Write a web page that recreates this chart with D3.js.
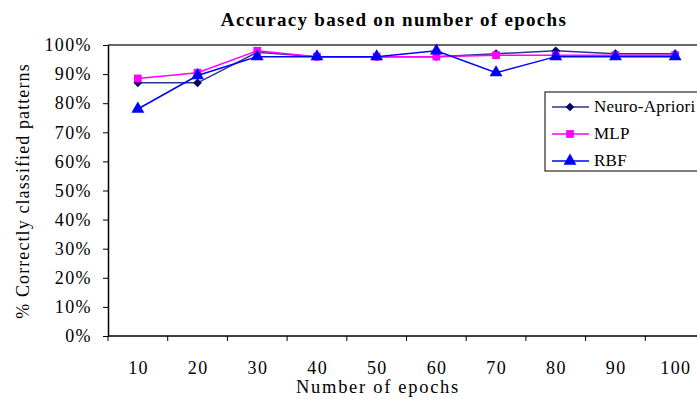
<!DOCTYPE html>
<html>
<head>
<meta charset="utf-8">
<script src="https://cdn.jsdelivr.net/npm/d3@7"></script>
<style>
  html, body { margin: 0; padding: 0; background: #fff; }
  svg { display: block; }
  text { font-family: "Liberation Serif", "Times New Roman", serif; fill: #000; }
</style>
</head>
<body>
<svg id="chart" width="697" height="399"></svg>
<script>
// Accuracy (%) per number of training epochs
const epochs = ["10", "20", "30", "40", "50", "60", "70", "80", "90", "100"];
const neuroApriori = [87, 87, 97.5, 96, 96, 96, 97, 98, 97, 97];
const mlp = [88.5, 90.5, 98, 96, 96, 96, 96.5, 96.5, 96.5, 96.5];
const rbf = [78, 89.5, 96, 96, 96, 98, 90.5, 96, 96, 96];
const yTicks = [0, 10, 20, 30, 40, 50, 60, 70, 80, 90, 100];

const series = [
  { name: "Neuro-Apriori", values: neuroApriori, color: "#2a3590", marker: "diamond", fill: "#000066" },
  { name: "MLP", values: mlp, color: "#ff00ff", marker: "square", fill: "#ff00ff" },
  { name: "RBF", values: rbf, color: "#0000ff", marker: "triangle", fill: "#0000ff" }
];

const svg = d3.select("#chart");
const plotLeft = 108, plotTop = 45, plotBottom = 336;
const bandW = 59.7;
const plotRight = plotLeft + bandW * epochs.length;

const x = d3.scaleBand().domain(epochs).range([plotLeft, plotRight]);
const y = d3.scaleLinear().domain([0, 100]).range([plotBottom, plotTop]);

// Title
svg.append("text")
  .attr("x", 394).attr("y", 26)
  .attr("text-anchor", "middle")
  .style("font-size", "19px").style("font-weight", "bold")
  .style("letter-spacing", "1.3px")
  .text("Accuracy based on number of epochs");

// Top border of plot area
svg.append("line")
  .attr("x1", plotLeft).attr("x2", plotRight)
  .attr("y1", plotTop).attr("y2", plotTop)
  .attr("stroke", "#666").attr("stroke-width", 2);

// Y axis
const yAxis = svg.append("g")
  .attr("transform", `translate(${plotLeft},0)`)
  .call(d3.axisLeft(y).tickValues(yTicks).tickFormat(d => d + "%").tickSize(5).tickSizeOuter(0));
yAxis.select(".domain").attr("stroke", "#000").attr("stroke-width", 1.5);
yAxis.selectAll(".tick line").attr("stroke", "#000");
yAxis.selectAll(".tick text")
  .attr("x", -16)
  .style("font-size", "18px")
  .style("letter-spacing", "1.4px")
  .style("font-family", "'Liberation Serif', serif");

// X axis with ticks between categories
const xAxis = svg.append("g")
  .attr("transform", `translate(0,${plotBottom})`);
xAxis.append("line")
  .attr("x1", plotLeft).attr("x2", plotRight)
  .attr("stroke", "#000").attr("stroke-width", 1.5);
xAxis.selectAll("line.tk")
  .data(d3.range(epochs.length + 1))
  .join("line")
  .attr("class", "tk")
  .attr("x1", i => plotLeft + i * x.step()).attr("x2", i => plotLeft + i * x.step())
  .attr("y1", 0).attr("y2", 5)
  .attr("stroke", "#000");
xAxis.selectAll("text")
  .data(epochs)
  .join("text")
  .attr("x", d => x(d) + x.bandwidth() / 2 + 0.7)
  .attr("y", 37.5)
  .attr("text-anchor", "middle")
  .style("font-size", "18px")
  .style("letter-spacing", "1.4px")
  .text(d => d);

// Axis titles
svg.append("text")
  .attr("x", 378).attr("y", 393)
  .attr("text-anchor", "middle")
  .style("font-size", "18.5px")
  .style("letter-spacing", "1.7px")
  .text("Number of epochs");
svg.append("text")
  .attr("transform", "translate(29,191) rotate(-90)")
  .attr("text-anchor", "middle")
  .style("font-size", "18px")
  .style("letter-spacing", "1.1px")
  .text("% Correctly classified patterns");

// Marker shapes (diamond = square turned 45°)
const markerPath = {
  diamond: d3.symbol().type(d3.symbolSquare).size(38),
  square: d3.symbol().type(d3.symbolSquare).size(60),
  triangle: d3.symbol().type(d3.symbolTriangle).size(72)
};
const markerRot = { diamond: 45, square: 0, triangle: 0 };

const line = d3.line()
  .x((d, i) => x(epochs[i]) + x.bandwidth() / 2)
  .y(d => y(d));

series.forEach(s => {
  const g = svg.append("g");
  g.append("path")
    .attr("d", line(s.values))
    .attr("fill", "none")
    .attr("stroke", s.color)
    .attr("stroke-width", 1.5);
  g.selectAll("path.pt")
    .data(s.values)
    .join("path")
    .attr("class", "pt")
    .attr("transform", (d, i) => `translate(${x(epochs[i]) + x.bandwidth() / 2},${y(d)}) rotate(${markerRot[s.marker]})`)
    .attr("d", markerPath[s.marker])
    .attr("fill", s.fill);
});

// Legend
const legend = svg.append("g");
legend.append("rect")
  .attr("x", 545).attr("y", 92)
  .attr("width", 170).attr("height", 79)
  .attr("fill", "#fff").attr("stroke", "#000");
series.forEach((s, i) => {
  const ly = 107 + i * 27;
  legend.append("line")
    .attr("x1", 552).attr("x2", 589)
    .attr("y1", ly).attr("y2", ly)
    .attr("stroke", s.color).attr("stroke-width", 1.5);
  legend.append("path")
    .attr("transform", `translate(570,${ly}) rotate(${markerRot[s.marker]})`)
    .attr("d", markerPath[s.marker])
    .attr("fill", s.fill);
  legend.append("text")
    .attr("x", 594).attr("y", ly + 5)
    .style("font-size", "17px")
    .style("letter-spacing", "0.25px")
    .text(s.name);
});
</script>
</body>
</html>
